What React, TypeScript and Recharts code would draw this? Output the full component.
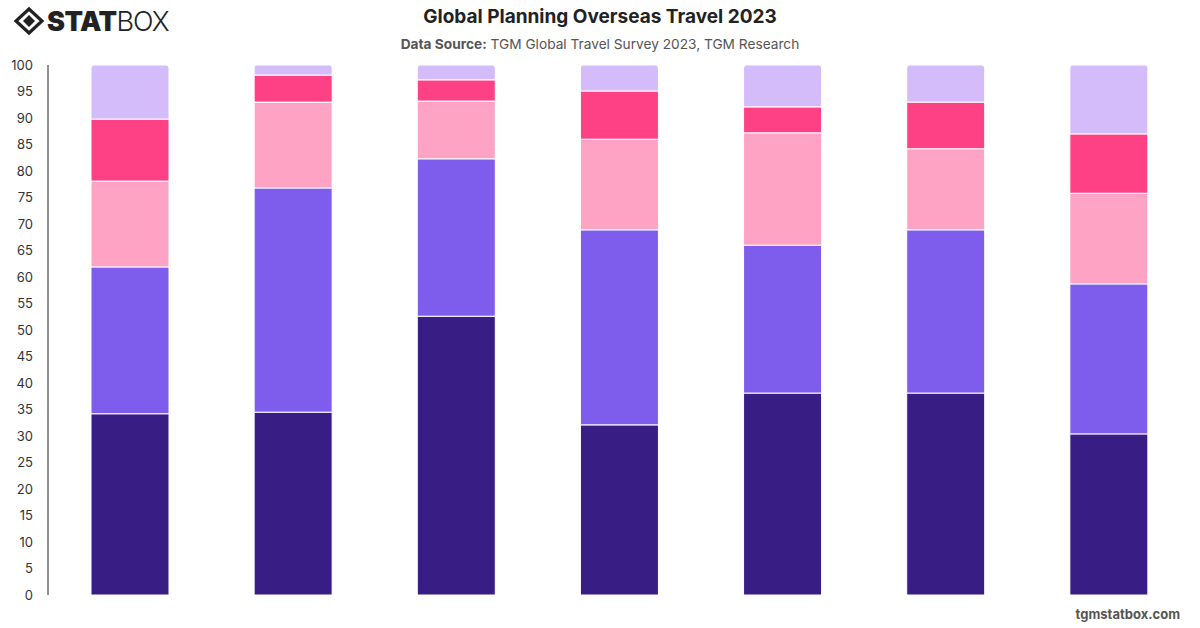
import React from 'react'
import { BarChart, Bar, XAxis, YAxis } from 'recharts'

// Survey groups (no axis labels are shown on the chart)
const groups = ['G1', 'G2', 'G3', 'G4', 'G5', 'G6', 'G7']

// Share of respondents per segment, bottom to top (percent)
const segment1 = [34.2, 34.5, 52.6, 32.1, 38.1, 38.1, 30.4]
const segment2 = [27.7, 42.3, 29.7, 36.8, 27.9, 30.8, 28.3]
const segment3 = [16.2, 16.2, 10.9, 17.1, 21.2, 15.3, 17.1]
const segment4 = [11.7, 5.1, 4.0, 9.1, 4.9, 8.8, 11.2]
const segment5 = [10.2, 1.9, 2.8, 4.9, 7.9, 7.0, 13.0]

const yTicks = [0, 5, 10, 15, 20, 25, 30, 35, 40, 45, 50, 55, 60, 65, 70, 75, 80, 85, 90, 95, 100]

const COLORS = ['#381d84', '#7e5ded', '#fea3c4', '#fe4085', '#d4bbfa']
const FONT = 'Inter, "Helvetica Neue", Arial, sans-serif'

const data = groups.map((g, i) => ({
  name: g,
  s1: segment1[i],
  s2: segment2[i],
  s3: segment3[i],
  s4: segment4[i],
  s5: segment5[i],
}))

function Logo() {
  return (
    <svg width={170} height={40} style={{ position: 'absolute', left: 0, top: 0 }}>
      <g transform="translate(29,21)">
        <path d="M0,-12 L13,0 L0,12 L-13,0 Z" fill="none" stroke="#222" strokeWidth={3.2} />
        <path d="M0,-6 L6,0 L0,6 L-6,0 Z" fill="#222" />
      </g>
      <text x={47} y={31} fontFamily={FONT} fontSize={27} fontWeight={900} fill="#222" letterSpacing={-0.5}>
        STAT
        <tspan fontWeight={300} letterSpacing={-1}>BOX</tspan>
      </text>
    </svg>
  )
}

export default function App() {
  return (
    <div style={{ position: 'absolute', left: 0, top: 0, width: 1200, height: 628, background: '#fff', fontFamily: FONT }}>
      <Logo />
      <div style={{ position: 'absolute', top: 5, left: 0, width: 1200, textAlign: 'center', fontSize: 19, fontWeight: 700, color: '#222' }}>
        Global Planning Overseas Travel 2023
      </div>
      <div style={{ position: 'absolute', top: 36, left: 0, width: 1200, textAlign: 'center', fontSize: 13.7, color: '#555' }}>
        <b>Data Source:</b> TGM Global Travel Survey 2023, TGM Research
      </div>

      <BarChart
        width={1200}
        height={628}
        data={data}
        margin={{ top: 65, right: 10, bottom: 33, left: 0 }}
        style={{ position: 'absolute', left: 0, top: 0 }}
      >
        <XAxis dataKey="name" tick={false} tickLine={false} height={0} axisLine={{ stroke: '#222' }} />
        <YAxis
          domain={[0, 100]}
          ticks={yTicks}
          interval={0}
          width={48}
          tickLine={false}
          tickMargin={9}
          axisLine={{ stroke: '#222' }}
          tick={{ fontSize: 13, fill: '#333', fontFamily: FONT }}
        />
        <Bar dataKey="s1" stackId="a" fill={COLORS[0]} stroke="#fff" strokeWidth={1} barSize={78} isAnimationActive={false} />
        <Bar dataKey="s2" stackId="a" fill={COLORS[1]} stroke="#fff" strokeWidth={1} barSize={78} isAnimationActive={false} />
        <Bar dataKey="s3" stackId="a" fill={COLORS[2]} stroke="#fff" strokeWidth={1} barSize={78} isAnimationActive={false} />
        <Bar dataKey="s4" stackId="a" fill={COLORS[3]} stroke="#fff" strokeWidth={1} barSize={78} isAnimationActive={false} />
        <Bar dataKey="s5" stackId="a" fill={COLORS[4]} stroke="#fff" strokeWidth={1} barSize={78} radius={[3, 3, 0, 0]} isAnimationActive={false} />
      </BarChart>

      <div style={{ position: 'absolute', top: 606, right: 20, fontSize: 13, fontWeight: 700, color: '#555' }}>
        tgmstatbox.com
      </div>
    </div>
  )
}
